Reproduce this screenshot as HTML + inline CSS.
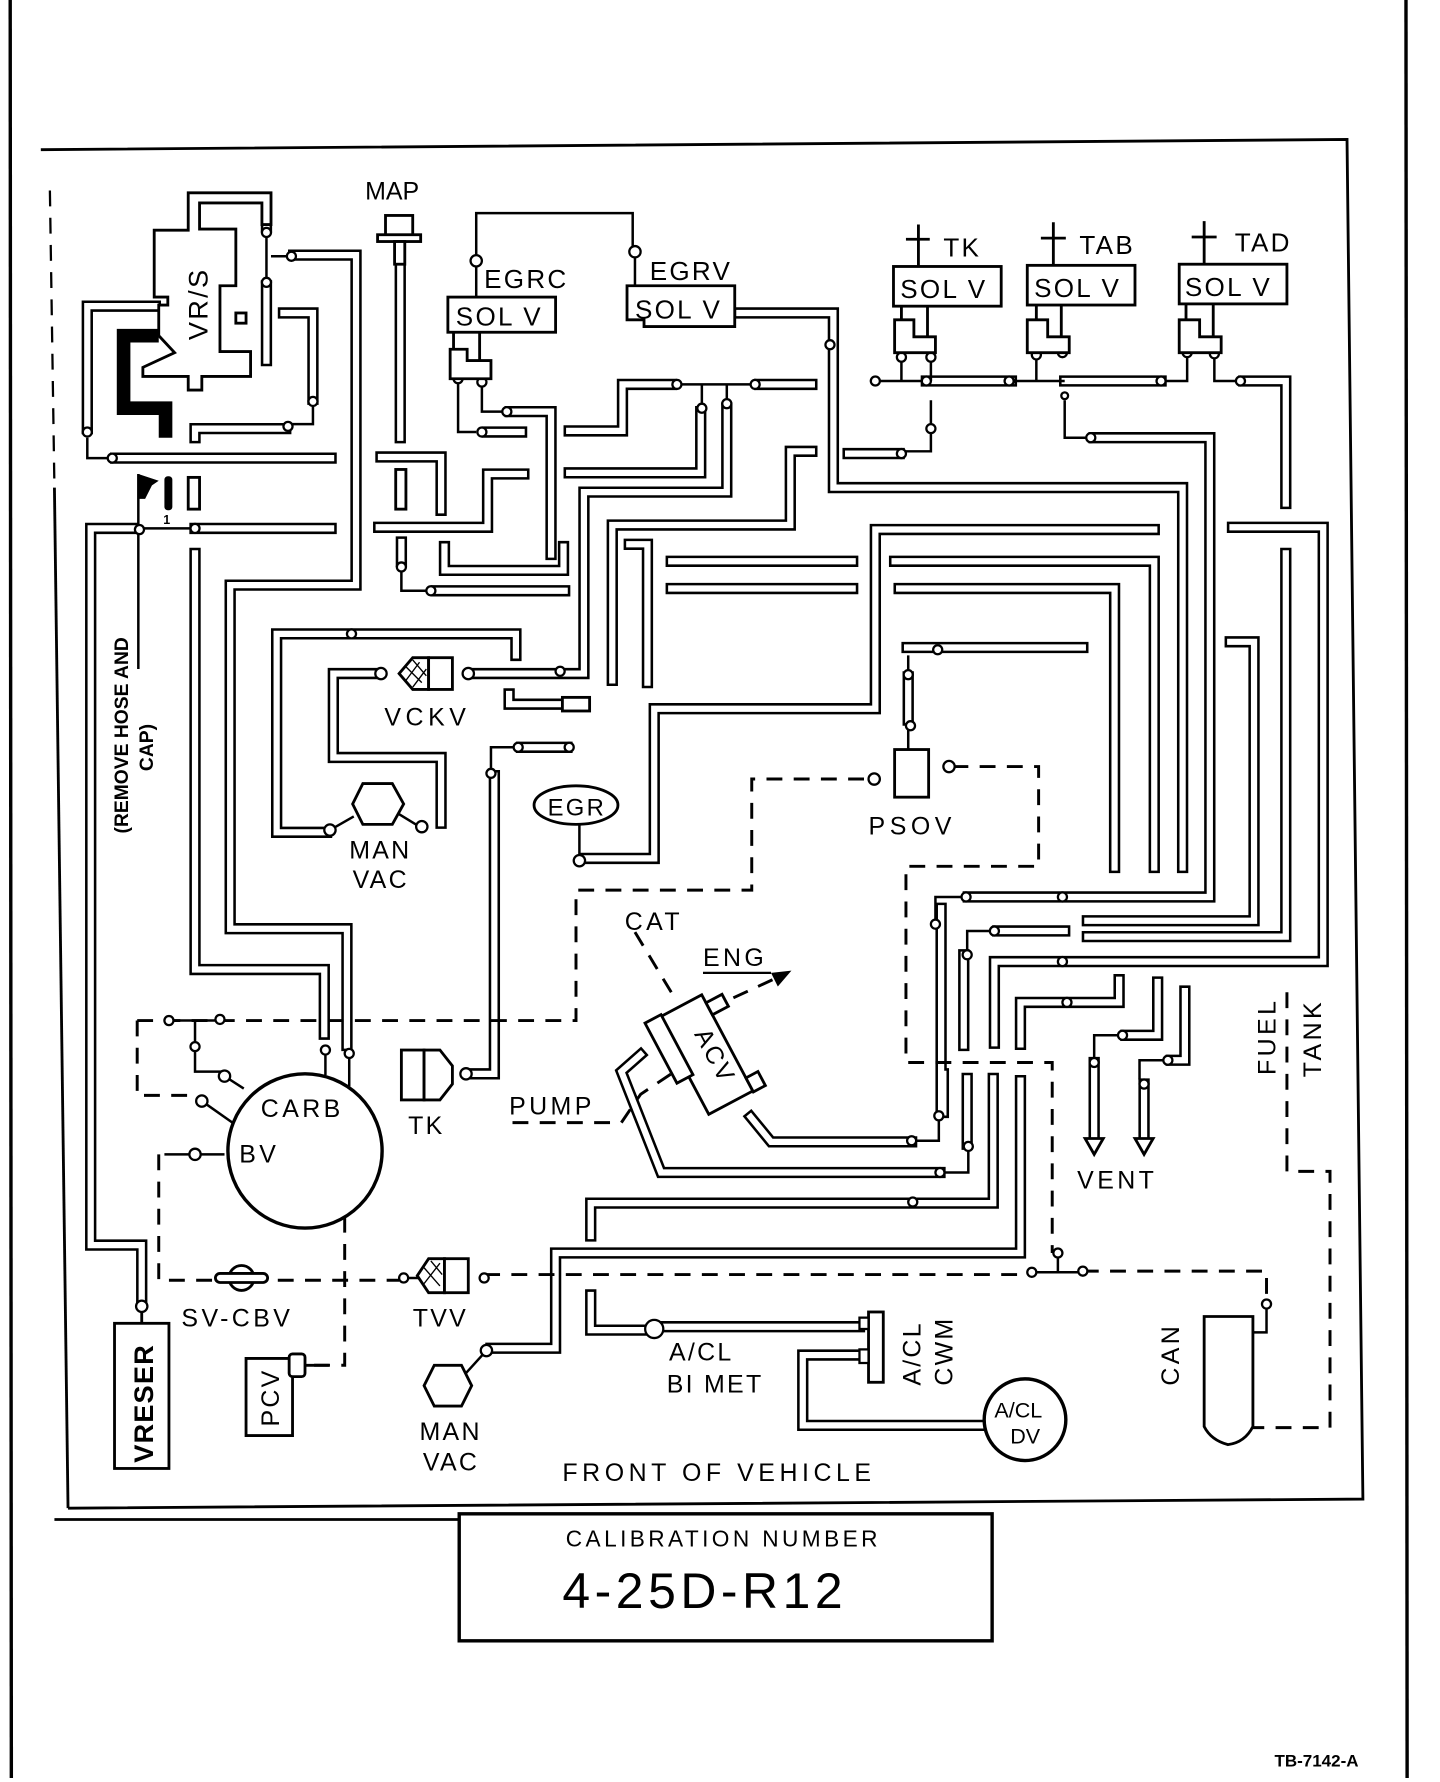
<!DOCTYPE html>
<html><head><meta charset="utf-8"><style>
html,body{margin:0;padding:0;background:#fff;}
svg{display:block;}
text{font-family:"Liberation Sans",sans-serif;fill:#000;}
</style></head><body>
<svg width="1440" height="1782" viewBox="0 0 1270 1571.5" preserveAspectRatio="none" xmlns="http://www.w3.org/2000/svg">
<defs>
<path id="P" fill="none" d="
M125,1146 V1098 H80 V466 H118
M172,466 H292
M102,404 H292
M137,270 H77 V378
M250,276 H276 V352
M252,378 H172 V386
M171,205 V174 H235 V200
M235,252 V318
M259,225 H314 V516 H203 V819 H306 V922
M172,488 V855 H286 V912
M455,578 V559 H244 V734 H288
M333,594 H294 V668 H389 V726
M416,594 H515 V434 H641 V360
M540,600 V463 H697 V398 H716
M555,480 H571 V602
M502,380 H549 V339 H592
M670,339 H716
M502,417 H618 V363
M353,233 V386
M336,403 H389 V450
M334,465 H430 V418 H462
M354,478 V495
M385,521 H498
M392,482 V503 H497 V482
M450,363 H486 V489
M430,381 H460
M449,612 V621 H494
M516,757 H577 V625 H772 V467 H1018
M592,495 H752
M592,519 H752
M789,495 H1018 V765
M793,519 H983 V765
M652,276 H735 V430 H1043 V765
M817,336 H892
M939,336 H1024
M748,400 H793
M965,386 H1067 V791 H854
M1097,336 H1134 V444
M1087,465 H1167 V848 H877 V920
M1134,488 V826 H959
M1085,566 H1106 V812 H959
M880,821 H939
M830,815 V922
M850,842 V922
M900,921 V884 H987 V864
M1021,866 V913 H993
M1045,874 V935 H1033
M965,937 V1003
M1009,956 V1003
M830,801 V981
M832,947 V981
M853,951 V1009
M876,951 V1061 H805
M900,953 V1105 H490 V1189 H433
M521,1090 V1061 H805
M804,1007 H680 L662,985
M829,1034 H583 L548,945 L565,930
M955,571 H800
M801,597 V635
M436,947 H415
M436,947 V684
M460,659 H500
M521,1142 V1173 H570
M585,1170 H758
M758,1195 H708 V1257 H868
"/>
</defs>
<g stroke-linecap="square" stroke-linejoin="miter">
<use href="#P" stroke="#000" stroke-width="10"/>
<use href="#P" stroke="#fff" stroke-width="5.5"/>
</g>

<g stroke="#000" fill="none">
<line x1="9" y1="0" x2="10" y2="1568" stroke-width="3"/>
<line x1="1240" y1="0" x2="1241" y2="1568" stroke-width="3"/>
<polyline points="36,132 1188,123 1202,1322 60,1330" stroke-width="2.5"/>
<line x1="44" y1="168" x2="48" y2="430" stroke-width="2" stroke-dasharray="14,10"/>
<line x1="48" y1="430" x2="60" y2="1330" stroke-width="2.5"/>
<line x1="48" y1="1340" x2="405" y2="1340" stroke-width="2.5"/>
<rect x="405" y="1335" width="470" height="112" stroke-width="3"/>
</g>

<g stroke="#000" stroke-width="2.5" fill="#fff">
<polygon points="136,203 136,262 148,262 148,269 140,269 140,296 154,311 126,324 126,332 166,332 166,344 178,344 178,332 221,332 221,310 194,310 194,252 208,252 208,202 176,202 176,179 231,179 231,198 239,198 239,170 166,170 166,203"/>
<rect x="208" y="276" width="9" height="9"/>
</g>
<path d="M140,296 H109 V360 H146 V386" stroke="#000" stroke-width="12" fill="none"/>
<text x="0" y="0" font-size="24" transform="translate(183,300) rotate(-90)" letter-spacing="2">VR/S</text>

<g stroke="#000" stroke-width="2.2" fill="none">
<path d="M77,386 V404 H96"/>
<path d="M276,356 V374 H258"/>
<path d="M235,208 V245 M239,226 H255"/>
<path d="M123,466 H168"/>
<path d="M122,418 V590"/>
<path d="M420,234 V262 M420,228 V188 H558 V218 M560,226 V252"/>
<path d="M404,334 V381 H420 M425,337 V363 H444"/>
<path d="M354,503 V521 H376"/>
<path d="M600,339 H662"/>
<path d="M619,356 V339 M641,354 V339"/>
<path d="M795,315 V336 H813 M775,336 H795"/>
<path d="M821,315 V336"/>
<path d="M892,336 H939 M914,313 V336"/>
<path d="M1028,336 H1047 V313"/>
<path d="M1071,312 V336 H1090"/>
<path d="M821,353 V398 H798"/>
<path d="M939,353 V386 H958"/>
<path d="M801,578 V593 M801,643 V661"/>
<path d="M825,812 V791 H848"/>
<path d="M853,838 V821 H873"/>
<path d="M990,913 H965 V934"/>
<path d="M1030,935 H1005 V952"/>
<path d="M828,984 V1006 H808"/>
<path d="M854,1011 V1034 H833"/>
<path d="M287,926 V948 M308,930 V958"/>
<path d="M291,732 L312,720 M370,729 L352,718"/>
<path d="M511,727 V755"/>
<path d="M429,1191 L410,1212"/>
<path d="M433,682 V659 H456"/>
<path d="M149,900 H194 M172,900 V945 H196 M198,949 L215,960"/>
<path d="M178,971 L205,990"/>
<path d="M145,1018 H198"/>
<path d="M1117,1150 V1175 H1087"/>
<path d="M933,1105 V1122 M910,1122 H955"/>
<path d="M199,1127 H228 M370,1127 H356"/>
</g>

<g stroke="#000" stroke-width="2.6" fill="none" stroke-dasharray="14,10">
<path d="M121,900 H508 V785 H663 V687 H768"/>
<path d="M121,900 V966 H172"/>
<path d="M840,676 H916 V764 H799 V937 H928 V1105"/>
<path d="M140,1018 V1129 H352"/>
<path d="M304,1073 V1204 H275"/>
<path d="M427,1124 H910 M955,1121 H1117 V1150"/>
<path d="M1135,875 V1033 H1173 V1259 H1105"/>
<path d="M560,822 L595,880"/>
<path d="M625,890 L690,860"/>
<path d="M452,990 H548 L565,965 L595,945"/>
</g>
<polygon points="698,856 680,858 686,870" fill="#000"/>

<g stroke="#000" stroke-width="2" fill="#fff">
<circle cx="77" cy="381" r="4"/><circle cx="99" cy="404" r="4"/>
<circle cx="235" cy="205" r="4"/><circle cx="235" cy="249" r="4"/><circle cx="257" cy="226" r="4"/>
<circle cx="276" cy="354" r="4"/><circle cx="254" cy="376" r="4"/>
<circle cx="123" cy="467" r="4"/><circle cx="172" cy="466" r="4"/>
<circle cx="420" cy="230" r="5"/><circle cx="560" cy="222" r="5"/>
<circle cx="404" cy="334" r="4"/><circle cx="425" cy="337" r="4"/>
<circle cx="447" cy="363" r="4"/><circle cx="425" cy="381" r="4"/>
<circle cx="354" cy="500" r="4"/><circle cx="380" cy="521" r="4"/>
<circle cx="597" cy="339" r="4"/><circle cx="666" cy="339" r="4"/>
<circle cx="619" cy="360" r="4"/><circle cx="641" cy="356" r="4"/>
<circle cx="310" cy="559" r="4"/>
<circle cx="336" cy="594" r="5"/><circle cx="413" cy="594" r="5"/><circle cx="494" cy="592" r="4"/>
<circle cx="291" cy="732" r="5"/><circle cx="372" cy="729" r="5"/>
<circle cx="511" cy="759" r="5"/>
<circle cx="433" cy="682" r="4"/><circle cx="457" cy="659" r="4"/><circle cx="502" cy="659" r="4"/>
<circle cx="411" cy="947" r="5"/>
<circle cx="772" cy="336" r="4"/><circle cx="817" cy="336" r="4"/><circle cx="890" cy="336" r="4"/>
<circle cx="795" cy="315" r="4"/><circle cx="821" cy="315" r="4"/>
<circle cx="914" cy="313" r="4"/><circle cx="937" cy="311" r="4"/><circle cx="1024" cy="336" r="4"/>
<circle cx="1047" cy="311" r="4"/><circle cx="1071" cy="312" r="4"/><circle cx="1094" cy="336" r="4"/>
<circle cx="821" cy="378" r="4"/><circle cx="795" cy="400" r="4"/><circle cx="962" cy="386" r="4"/><circle cx="939" cy="349" r="3"/>
<circle cx="732" cy="304" r="4"/>
<circle cx="827" cy="573" r="4"/><circle cx="801" cy="595" r="4"/><circle cx="803" cy="640" r="4"/>
<circle cx="771" cy="687" r="5"/><circle cx="837" cy="676" r="5"/>
<circle cx="825" cy="815" r="4"/><circle cx="852" cy="791" r="4"/><circle cx="937" cy="791" r="4"/>
<circle cx="853" cy="842" r="4"/><circle cx="877" cy="821" r="4"/><circle cx="937" cy="848" r="4"/><circle cx="941" cy="884" r="4"/>
<circle cx="990" cy="913" r="4"/><circle cx="965" cy="937" r="4"/>
<circle cx="1030" cy="935" r="4"/><circle cx="1009" cy="956" r="4"/>
<circle cx="828" cy="984" r="4"/><circle cx="804" cy="1006" r="4"/>
<circle cx="854" cy="1011" r="4"/><circle cx="829" cy="1034" r="4"/><circle cx="805" cy="1060" r="4"/>
<circle cx="149" cy="900" r="4"/><circle cx="194" cy="899" r="4"/><circle cx="172" cy="923" r="4"/>
<circle cx="198" cy="949" r="5"/><circle cx="178" cy="971" r="5"/><circle cx="172" cy="1018" r="5"/>
<circle cx="287" cy="926" r="4"/><circle cx="308" cy="929" r="4"/>
<circle cx="125" cy="1152" r="5"/>
<circle cx="356" cy="1127" r="4"/><circle cx="427" cy="1127" r="4"/>
<circle cx="429" cy="1191" r="5"/>
<circle cx="910" cy="1122" r="4"/><circle cx="955" cy="1121" r="4"/><circle cx="933" cy="1105" r="4"/>
<circle cx="1117" cy="1150" r="4"/><circle cx="1082" cy="1175" r="5"/><circle cx="1082" cy="1235" r="4"/><circle cx="1090" cy="1256" r="3"/>
<circle cx="577" cy="1172" r="8"/>
</g>

<polygon points="122,418 140,424 134,428 128,440 122,440" fill="#000"/>
<rect x="145" y="420" width="7" height="30" rx="3" fill="#000"/>
<text x="144" y="462" font-size="11" font-weight="bold">1</text>
<rect x="166" y="421" width="10" height="28" fill="#fff" stroke="#000" stroke-width="2.5"/>
<rect x="349" y="414" width="9" height="35" fill="#fff" stroke="#000" stroke-width="2.5"/>

<g stroke="#000" stroke-width="2.5" fill="#fff">
<rect x="340" y="190" width="24" height="18"/>
<rect x="333" y="207" width="38" height="6"/>
<rect x="348" y="213" width="9" height="20"/>
</g>
<text x="322" y="176" font-size="22">MAP</text>

<g stroke="#000" stroke-width="2.5" fill="#fff">
<rect x="395" y="262" width="95" height="31"/>
<path d="M553,252 H648 V288 H568 V282 H553 Z"/>
<rect x="788" y="235" width="95" height="35"/>
<rect x="906" y="234" width="95" height="35"/>
<rect x="1040" y="233" width="95" height="35"/>
<path d="M397,308 H412 V318 H433 V334 H397 Z"/>
<path d="M789,282 H806 V297 H825 V311 H789 Z"/>
<path d="M906,282 H924 V297 H943 V311 H906 Z"/>
<path d="M1040,282 H1058 V297 H1077 V311 H1040 Z"/>
</g>
<g stroke="#000" stroke-width="2.5" fill="none">
<path d="M810,198 V235 M799,211 H820"/>
<path d="M929,196 V234 M918,210 H940"/>
<path d="M1062,195 V233 M1051,209 H1073"/>
<path d="M400,293 V308 M423,293 V318"/>
<path d="M795,270 V282 M818,270 V297"/>
<path d="M914,269 V282 M936,269 V297"/>
<path d="M1046,268 V282 M1070,268 V297"/>
</g>
<g font-size="23" letter-spacing="2">
<text x="427" y="254">EGRC</text>
<text x="573" y="247">EGRV</text>
<text x="402" y="287">SOL V</text>
<text x="560" y="281">SOL V</text>
<text x="794" y="263">SOL V</text>
<text x="912" y="262">SOL V</text>
<text x="1045" y="261">SOL V</text>
<text x="832" y="226">TK</text>
<text x="952" y="224">TAB</text>
<text x="1089" y="222">TAD</text>
</g>

<g stroke="#000" stroke-width="2.5" fill="#fff">
<polygon points="352,594 364,580 378,580 378,608 364,608"/>
<rect x="378" y="580" width="21" height="28"/>
</g>
<g stroke="#000" stroke-width="1.2">
<path d="M358,588 L372,602 M364,582 L376,596 M358,600 L370,584 M364,606 L376,590"/>
</g>
<rect x="496" y="615" width="24" height="12" fill="#fff" stroke="#000" stroke-width="2.5"/>
<text x="339" y="640" font-size="22" letter-spacing="4">VCKV</text>

<polygon points="320,691 346,691 356,709 346,727 320,727 311,709" fill="#fff" stroke="#000" stroke-width="2.5"/>
<text x="308" y="757" font-size="22" letter-spacing="2">MAN</text>
<text x="311" y="783" font-size="22" letter-spacing="2">VAC</text>

<ellipse cx="508" cy="710" rx="37" ry="17" fill="#fff" stroke="#000" stroke-width="2.5"/>
<text x="483" y="719" font-size="21" letter-spacing="2">EGR</text>

<rect x="789" y="661" width="30" height="42" fill="#fff" stroke="#000" stroke-width="2.5"/>
<text x="766" y="736" font-size="22" letter-spacing="4">PSOV</text>

<text x="551" y="820" font-size="22" letter-spacing="3">CAT</text>
<text x="620" y="852" font-size="22" letter-spacing="3">ENG</text>
<text x="449" y="983" font-size="22" letter-spacing="3">PUMP</text>
<line x1="620" y1="858" x2="680" y2="858" stroke="#000" stroke-width="2"/>

<g transform="translate(622,930) rotate(62)" stroke="#000" stroke-width="2.5" fill="#fff">
<rect x="-48" y="-22" width="96" height="44"/>
<rect x="-40" y="-38" width="12" height="16"/>
<rect x="-30" y="22" width="40" height="10"/>
<rect x="35" y="-34" width="14" height="12"/>
</g>
<text transform="translate(612,912) rotate(62)" font-size="22" letter-spacing="2">ACV</text>
<g transform="translate(590,925) rotate(62)" stroke="#000" stroke-width="2.5" fill="#fff">
<rect x="-30" y="-8" width="60" height="16"/>
</g>

<g stroke="#000" stroke-width="2.5" fill="#fff">
<rect x="354" y="926" width="20" height="44"/>
<path d="M374,926 H388 L399,940 V956 L388,970 H374 Z"/>
</g>
<text x="360" y="1000" font-size="22" letter-spacing="2">TK</text>

<circle cx="269" cy="1015" r="68" fill="#fff" stroke="#000" stroke-width="3"/>
<text x="230" y="985" font-size="22" letter-spacing="3">CARB</text>
<text x="211" y="1025" font-size="22" letter-spacing="3">BV</text>

<circle cx="213" cy="1127" r="11" fill="#fff" stroke="#000" stroke-width="2.5"/>
<rect x="190" y="1123" width="46" height="8" rx="4" fill="#fff" stroke="#000" stroke-width="2.5"/>
<text x="160" y="1170" font-size="22" letter-spacing="3">SV-CBV</text>

<g stroke="#000" stroke-width="2.5" fill="#fff">
<polygon points="368,1125 378,1110 392,1110 392,1140 378,1140"/>
<rect x="392" y="1110" width="21" height="30"/>
</g>
<path d="M374,1118 L388,1134 M380,1112 L390,1124 M374,1132 L388,1114" stroke="#000" stroke-width="1.2"/>
<text x="364" y="1170" font-size="22" letter-spacing="2">TVV</text>

<rect x="101" y="1167" width="48" height="128" fill="#fff" stroke="#000" stroke-width="2.5"/>
<text transform="translate(135,1290) rotate(-90)" font-size="24" font-weight="bold" letter-spacing="1">VRESER</text>
<line x1="125" y1="1157" x2="125" y2="1167" stroke="#000" stroke-width="2.5"/>

<path d="M217,1198 H258 V1266 H217 Z" fill="#fff" stroke="#000" stroke-width="2.5"/>
<rect x="255" y="1194" width="14" height="20" rx="3" fill="#fff" stroke="#000" stroke-width="2.5"/>
<line x1="269" y1="1204" x2="290" y2="1204" stroke="#000" stroke-width="2.5"/>
<text transform="translate(246,1258) rotate(-90)" font-size="22" letter-spacing="2">PCV</text>

<polygon points="383,1204 407,1204 416,1222 407,1240 383,1240 374,1222" fill="#fff" stroke="#000" stroke-width="2.5"/>
<text x="370" y="1270" font-size="22" letter-spacing="2">MAN</text>
<text x="373" y="1297" font-size="22" letter-spacing="2">VAC</text>

<text x="590" y="1200" font-size="22" letter-spacing="2">A/CL</text>
<text x="588" y="1228" font-size="22" letter-spacing="2">BI MET</text>
<rect x="766" y="1157" width="13" height="62" fill="#fff" stroke="#000" stroke-width="2.5"/>
<rect x="758" y="1162" width="8" height="10" fill="#fff" stroke="#000" stroke-width="2"/>
<rect x="758" y="1190" width="8" height="12" fill="#fff" stroke="#000" stroke-width="2"/>
<text transform="translate(812,1222) rotate(-90)" font-size="22" letter-spacing="2">A/CL</text>
<text transform="translate(840,1222) rotate(-90)" font-size="22" letter-spacing="2">CWM</text>
<circle cx="904" cy="1252" r="36" fill="#fff" stroke="#000" stroke-width="3"/>
<text x="877" y="1250" font-size="19">A/CL</text>
<text x="891" y="1273" font-size="19">DV</text>

<path d="M1062,1161 H1105 V1258 Q1098,1272 1083,1274 Q1068,1270 1062,1258 Z" fill="#fff" stroke="#000" stroke-width="2.5"/>
<text transform="translate(1040,1222) rotate(-90)" font-size="22" letter-spacing="3">CAN</text>

<g stroke="#000" stroke-width="2.5" fill="#fff">
<polygon points="957,1004 973,1004 965,1018"/>
<polygon points="1001,1004 1017,1004 1009,1018"/>
</g>
<text x="950" y="1048" font-size="22" letter-spacing="3">VENT</text>

<text transform="translate(1125,948) rotate(-90)" font-size="22" letter-spacing="3">FUEL</text>
<text transform="translate(1165,950) rotate(-90)" font-size="22" letter-spacing="3">TANK</text>

<text transform="translate(113,735) rotate(-90)" font-family="Liberation Serif" font-size="17" font-weight="bold">(REMOVE HOSE AND</text>
<text transform="translate(135,680) rotate(-90)" font-family="Liberation Serif" font-size="17" font-weight="bold">CAP)</text>
<text x="496" y="1306" font-size="22" letter-spacing="4">FRONT OF VEHICLE</text>
<text x="499" y="1364" font-size="20" letter-spacing="3">CALIBRATION NUMBER</text>
<text x="496" y="1418" font-size="44" letter-spacing="4">4-25D-R12</text>
<text x="1124" y="1558" font-size="15" font-weight="bold">TB-7142-A</text>
</svg>
</body></html>
